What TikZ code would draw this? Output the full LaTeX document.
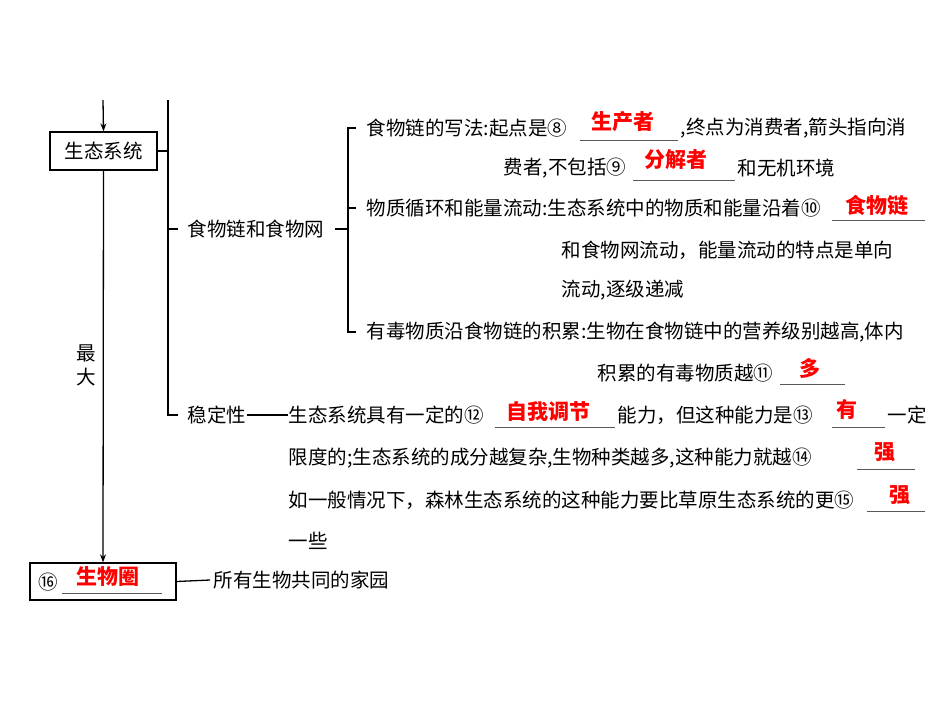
\documentclass[tikz,border=0pt]{standalone}
\usepackage{fontspec}
\setmainfont{Noto Sans CJK SC}
\usetikzlibrary{arrows.meta}
\begin{document}
\begin{tikzpicture}[x=1pt,y=-1pt,line width=1.3pt,
 t/.style={anchor=west,inner sep=0pt,font=\fontsize{19.5}{19.5}\selectfont},
 ans/.style={inner sep=0pt,text=red,font=\fontsize{21}{21}\selectfont\bfseries},
 bl/.style={line width=0.6pt,gray!70!black},
 arr/.style={-{Stealth[length=8pt,width=6pt]}}]
\useasboundingbox (0,0) rectangle (950,713);
\node[draw,minimum width=107pt,minimum height=38pt,inner sep=0pt,font=\fontsize{19.5}{19.5}\selectfont] (eco) at (103.5,151) {生态系统};
\coordinate (top) at (103,100);
\draw[arr] (top) -- (eco.north);
\node[draw,minimum width=146pt,minimum height=37pt,inner sep=0pt] (bio) at (103,581.5) {};
\draw[arr] (eco.south) -- (bio.north);
\node[t] (zd1) at (76,353) {最};
\node[t] (zd2) at (76,377) {大};
% main vertical
\coordinate (v1) at (168,100);
\coordinate (v2) at (168,415);
\draw (v1) -- (v2) -- (178,415);
\draw (eco.east) -- (168,151);
\draw (168,229) -- (178,229);
\node[t] (fw) at (187,229) {食物链和食物网};
\draw (335,229) -- (348,229);
\draw (356,128) -- (348,128) -- (348,332) -- (356,332);
\draw (348,208) -- (356,208);
% line 1
\node[t] at (366,128) {食物链的写法:起点是⑧};
\draw[bl] (580,140) -- (678,140); \node[ans] at (623,122) {生产者};
\node[t] at (680,128) {,终点为消费者,箭头指向消};
\node[t] at (503,168) {费者,不包括⑨};
\draw[bl] (633,180) -- (735,180); \node[ans] at (676,160) {分解者};
\node[t] at (737,168) {和无机环境};
\node[t] at (366,208) {物质循环和能量流动:生态系统中的物质和能量沿着⑩};
\draw[bl] (832,220) -- (925,220); \node[ans] at (877,205) {食物链};
\node[t] at (561,250) {和食物网流动，能量流动的特点是单向};
\node[t] at (561,290) {流动,逐级递减};
\node[t] at (366,332) {有毒物质沿食物链的积累:生物在食物链中的营养级别越高,体内};
\node[t] at (597,373) {积累的有毒物质越⑪};
\draw[bl] (780,384) -- (845,384); \node[ans] at (810,368) {多};
% stability
\node[t] (st) at (187,415) {稳定性};
\draw (247,415) -- (288,415);
\node[t] at (288,415) {生态系统具有一定的⑫};
\draw[bl] (495,427) -- (615,427); \node[ans] at (548,412) {自我调节};
\node[t] at (617,415) {能力，但这种能力是⑬};
\draw[bl] (832,427) -- (885,427); \node[ans] at (847,410) {有};
\node[t] at (887,415) {一定};
\node[t] at (288,458) {限度的;生态系统的成分越复杂,生物种类越多,这种能力就越⑭};
\draw[bl] (857,469) -- (915,469); \node[ans] at (885,452) {强};
\node[t] at (288,500) {如一般情况下，森林生态系统的这种能力要比草原生态系统的更⑮};
\draw[bl] (867,511) -- (925,511); \node[ans] at (900,495) {强};
\node[t] at (288,541) {一些};
% biosphere
\node[t] at (38,582) {⑯};
\draw[bl] (62,593) -- (162,593); \node[ans] at (108,577) {生物圈};
\draw (bio.east) -- (210,580);
\node[t] at (213,580) {所有生物共同的家园};
\end{tikzpicture}
\end{document}
